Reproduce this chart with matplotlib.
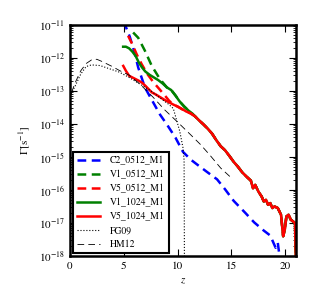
import numpy as np
import matplotlib
matplotlib.use("Agg")
import matplotlib.pyplot as plt

plt.rcParams['font.family'] = 'STIXGeneral'
plt.rcParams['mathtext.fontset'] = 'stix'

# values, log10(Gamma) vs z
z_c2 = [4.98, 5.56, 6.0, 6.34, 6.96, 7.5, 8.36, 9.0, 9.8, 10.5, 11.2, 11.8, 12.7,
        13.66, 14.4, 15.2, 16.3, 17.1, 18.0, 18.6, 19.1, 19.3, 19.5]
g_c2 = [-10.9, -11.37, -11.85, -12.3, -12.9, -13.22, -13.72, -14.02, -14.42, -14.85,
        -15.08, -15.23, -15.45, -15.68, -15.98, -16.33, -16.7, -16.98, -17.23, -17.38,
        -17.75, -17.6, -18.1]

# common high-z tail where the runs converge
z_tail = [11.6, 12.0, 12.4, 12.8, 13.2, 13.6, 14.0, 14.4, 14.8, 15.2, 15.6, 16.0, 16.4,
          16.8, 17.0, 17.2, 17.5, 17.8, 18.0, 18.2, 18.4, 18.6, 18.8, 19.0, 19.3, 19.6,
          19.8, 19.95, 20.1, 20.3, 20.5, 20.7, 20.9, 21.0]
g_tail = [-13.77, -13.9, -14.02, -14.15, -14.3, -14.5, -14.68, -14.8, -14.97, -15.15,
          -15.3, -15.47, -15.6, -15.72, -15.95, -15.85, -16.05, -16.2, -16.35, -16.3,
          -16.45, -16.4, -16.55, -16.5, -16.55, -16.75, -17.4, -17.2, -16.8, -16.75,
          -16.9, -16.95, -17.0, -18.5]

z_v1_1024 = [4.94, 5.2, 5.5, 5.8, 6.1, 6.4, 6.7, 7.0, 7.4, 7.8, 8.2, 8.6, 9.0, 9.4,
             9.8, 10.2, 10.6, 11.0, 11.4]
g_v1_1024 = [-11.67, -11.67, -11.72, -11.82, -11.95, -12.15, -12.3, -12.42, -12.52,
             -12.6, -12.68, -12.78, -12.9, -12.98, -13.15, -13.33, -13.47, -13.6, -13.7]

z_v5_1024 = [4.95, 5.2, 5.5, 5.8, 6.1, 6.4, 6.7, 7.0, 7.3, 7.6, 8.0, 8.4, 8.8, 9.2,
             9.6, 10.0, 10.4, 10.8, 11.2]
g_v5_1024 = [-12.25, -12.4, -12.55, -12.6, -12.65, -12.7, -12.76, -12.85, -12.95,
             -13.05, -13.12, -13.2, -13.28, -13.35, -13.42, -13.48, -13.55, -13.63, -13.68]

z_v1_0512 = [5.87, 6.34, 6.96, 7.6, 8.36, 9.0, 9.46, 9.8, 10.2, 10.6, 11.0, 11.4]
g_v1_0512 = [-11.24, -11.4, -11.79, -12.25, -12.65, -12.9, -13.0, -13.14, -13.33,
             -13.48, -13.6, -13.72]

z_v5_0512 = [5.4, 5.8, 6.2, 6.65, 7.2, 7.74, 8.3, 8.8, 9.2, 9.6, 10.0, 10.4, 10.8, 11.2]
g_v5_0512 = [-11.34, -11.6, -11.9, -12.19, -12.5, -12.74, -12.95, -13.14, -13.3,
             -13.42, -13.48, -13.56, -13.63, -13.69]

z_fg09 = [0.1, 0.5, 1.0, 1.5, 2.0, 2.8, 3.7, 4.6, 5.5, 6.5, 7.5, 8.5, 9.2, 9.6, 10.0,
          10.2, 10.5, 10.6, 10.64]
g_fg09 = [-13.1, -12.85, -12.5, -12.27, -12.22, -12.24, -12.34, -12.44, -12.6, -12.8,
          -13.0, -13.25, -13.42, -13.54, -14.0, -14.23, -14.73, -15.1, -19.0]

z_hm12 = [0.15, 0.5, 1.0, 1.5, 2.0, 2.5, 3.0, 3.5, 4.0, 4.6, 5.5, 6.5, 7.7, 8.8, 10.0,
          11.2, 12.1, 13.0, 14.0, 15.1]
g_hm12 = [-13.05, -12.75, -12.4, -12.18, -12.07, -12.05, -12.12, -12.2, -12.28, -12.39,
          -12.53, -12.8, -13.19, -13.58, -13.95, -14.33, -14.62, -14.95, -15.34, -15.67]

labels = ['C2_0512_M1', 'V1_0512_M1', 'V5_0512_M1', 'V1_1024_M1', 'V5_1024_M1',
          'FG09', 'HM12']

fig = plt.figure(figsize=(3.15, 3.07), dpi=100)
ax = fig.add_axes([0.222, 0.166, 0.718, 0.754])

lw = 1.8
dash = (3.5, 2.2)
ax.plot(z_c2, 10.0 ** np.array(g_c2), color='blue', lw=lw, dashes=dash, label=labels[0])
ax.plot(z_v1_0512 + z_tail, 10.0 ** np.array(g_v1_0512 + g_tail), color='green', lw=lw,
        dashes=dash, label=labels[1])
ax.plot(z_v5_0512 + z_tail, 10.0 ** np.array(g_v5_0512 + g_tail), color='red', lw=lw,
        dashes=dash, label=labels[2])
ax.plot(z_v1_1024 + z_tail, 10.0 ** np.array(g_v1_1024 + g_tail), color='green', lw=lw,
        label=labels[3])
ax.plot(z_v5_1024 + z_tail, 10.0 ** np.array(g_v5_1024 + g_tail), color='red', lw=lw,
        label=labels[4])
ax.plot(z_fg09, 10.0 ** np.array(g_fg09), color='black', lw=0.8, ls=':', label=labels[5])
ax.plot(z_hm12, 10.0 ** np.array(g_hm12), color='black', lw=0.6, dashes=(8, 5),
        label=labels[6])

ax.set_yscale('log')
ax.set_xlim(0, 21)
ax.set_ylim(1e-18, 1e-11)
ax.set_xticks([0, 5, 10, 15, 20])
ax.tick_params(which='both', direction='in', top=True, right=True, labelsize=8)
ax.tick_params(which='major', length=5)
ax.tick_params(which='minor', length=2.5)
for s in ax.spines.values():
    s.set_linewidth(1.8)

ax.set_xlabel('$z$', fontsize=8)
ax.set_ylabel(r'$\Gamma[\mathrm{s}^{-1}]$', fontsize=8)

leg = ax.legend(loc='lower left', fontsize=7, handlelength=2.4, handletextpad=1.0,
                fancybox=False, framealpha=1, borderaxespad=0.3, labelspacing=0.45)
leg.get_frame().set_edgecolor('black')
leg.get_frame().set_linewidth(1.5)

fig.savefig('out.png', dpi=100)
